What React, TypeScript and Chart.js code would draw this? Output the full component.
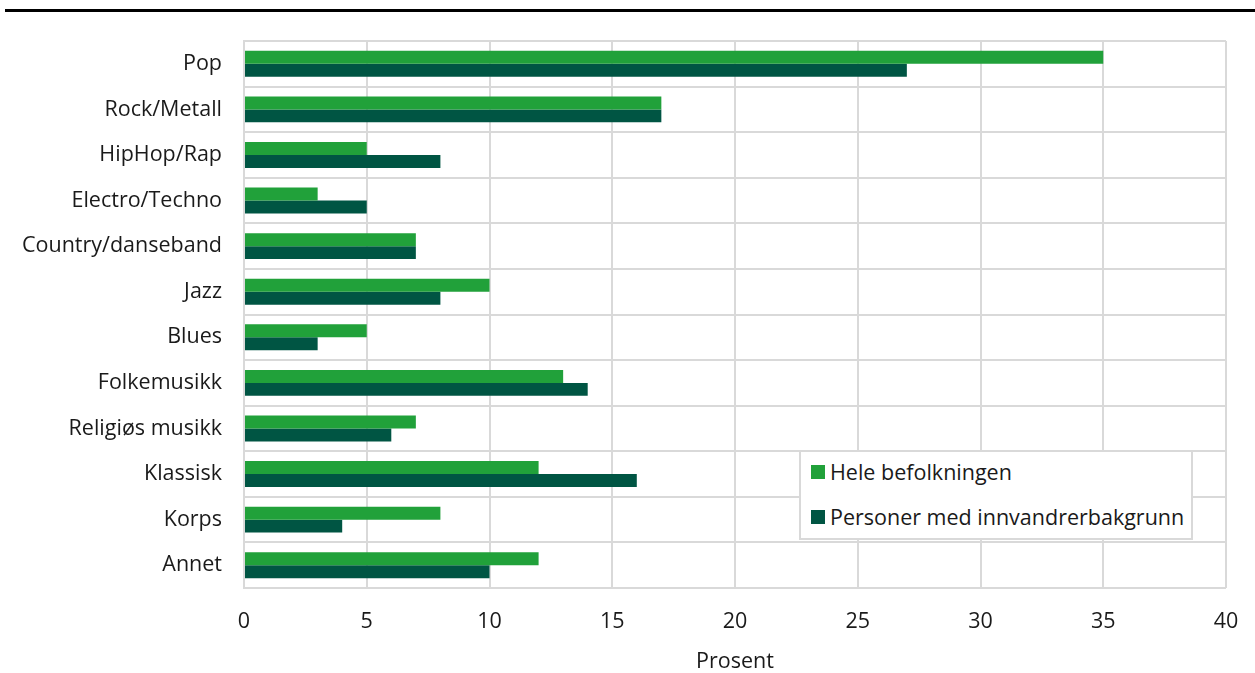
import React, { useEffect, useRef } from "react";
import { Chart, registerables } from "chart.js";

Chart.register(...registerables);

const categories = [
  "Pop",
  "Rock/Metall",
  "HipHop/Rap",
  "Electro/Techno",
  "Country/danseband",
  "Jazz",
  "Blues",
  "Folkemusikk",
  "Religiøs musikk",
  "Klassisk",
  "Korps",
  "Annet",
];
const seriesNames = ["Hele befolkningen", "Personer med innvandrerbakgrunn"];
const heleBefolkningen = [35, 17, 5, 3, 7, 10, 5, 13, 7, 12, 8, 12];
const innvandrerbakgrunn = [27, 17, 8, 5, 7, 8, 3, 14, 6, 16, 4, 10];
const xTicks = [0, 5, 10, 15, 20, 25, 30, 35, 40];
const axisTitle = "Prosent";

const colors = ["#21a13a", "#005543"];
const FONT = "'Open Sans', sans-serif";
const TEXT = "#1a1a1a";
const FS = 21.5;

export default function App() {
  const ref = useRef<HTMLCanvasElement>(null);
  useEffect(() => {
    const ctx = ref.current!;
    const chart = new Chart(ctx, {
      type: "bar",
      data: {
        labels: categories,
        datasets: [
          {
            label: seriesNames[0],
            data: heleBefolkningen,
            backgroundColor: colors[0],
            borderWidth: 0,
            barPercentage: 1,
            categoryPercentage: 0.57,
          },
          {
            label: seriesNames[1],
            data: innvandrerbakgrunn,
            backgroundColor: colors[1],
            borderWidth: 0,
            barPercentage: 1,
            categoryPercentage: 0.57,
          },
        ],
      },
      options: {
        indexAxis: "y",
        animation: false,
        responsive: false,
        maintainAspectRatio: false,
        layout: { padding: { top: 41, right: 29, left: 0, bottom: 0 } },
        plugins: {
          legend: { display: false },
          tooltip: { enabled: false },
        },
        scales: {
          x: {
            min: 0,
            max: 40,
            afterBuildTicks: (axis: any) => {
              axis.ticks = xTicks.map((v) => ({ value: v }));
            },
            grid: { color: "#d9d9d9", lineWidth: 2, drawTicks: false },
            border: { display: false },
            ticks: {
              color: TEXT,
              font: { family: FONT, size: FS },
              padding: 21,
            },
            title: {
              display: true,
              text: axisTitle,
              color: TEXT,
              font: { family: FONT, size: FS },
              padding: { top: 0, bottom: -2 },
            },
            afterFit: (axis: any) => {
              axis.height = 673 - 588;
              axis.paddingRight = 0;
              axis.paddingLeft = 0;
            },
          },
          y: {
            grid: { color: "#d9d9d9", lineWidth: 2, drawTicks: false, offset: true },
            border: { display: true, color: "#d9d9d9", width: 2 },
            ticks: {
              color: TEXT,
              font: { family: FONT, size: FS },
              padding: 22,
            },
            afterFit: (axis: any) => {
              axis.width = 244;
              axis.paddingTop = 0;
              axis.paddingBottom = 0;
            },
          },
        },
      },
    });
    return () => chart.destroy();
  }, []);

  return (
    <div style={{ position: "absolute", left: 0, top: 0, width: 1255, height: 673, background: "#fff" }}>
      <div style={{ position: "absolute", left: 5, top: 9, width: 1250, height: 3, background: "#000" }} />
      <canvas ref={ref} width={1255} height={673} style={{ position: "absolute", left: 0, top: 0 }} />
      <div
        style={{
          position: "absolute",
          left: 799,
          top: 450,
          width: 390,
          height: 86,
          border: "2px solid #d9d9d9",
          background: "#fff",
          fontFamily: FONT,
          fontSize: FS,
          lineHeight: "28px",
          color: TEXT,
        }}
      >
        {seriesNames.map((n, i) => (
          <div
            key={n}
            style={{ position: "absolute", left: 10, top: i === 0 ? 6 : 51, display: "flex", alignItems: "center", whiteSpace: "nowrap" }}
          >
            <span style={{ display: "inline-block", width: 14, height: 14, background: colors[i], marginRight: 5 }} />
            <span>{n}</span>
          </div>
        ))}
      </div>
    </div>
  );
}
